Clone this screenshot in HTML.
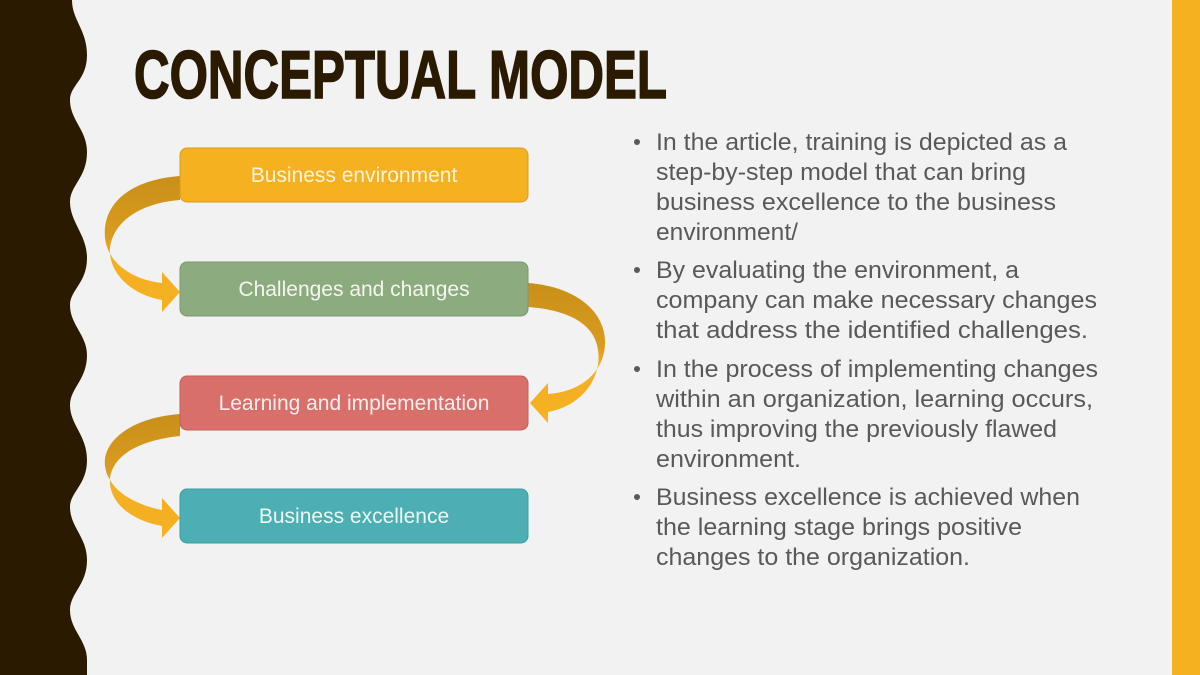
<!DOCTYPE html>
<html><head><meta charset="utf-8"><style>
html,body{margin:0;padding:0;background:#f2f2f2;}
svg{display:block;}
</style></head><body>
<svg width="1200" height="675" viewBox="0 0 1200 675" xmlns="http://www.w3.org/2000/svg">
<defs>
<linearGradient id="ga" x1="0" y1="0" x2="0" y2="1">
<stop offset="0" stop-color="#c98f1a"/><stop offset="0.45" stop-color="#d99c1e"/><stop offset="0.6" stop-color="#f3b024"/><stop offset="1" stop-color="#f5b120"/>
</linearGradient>
</defs>
<rect width="1200" height="675" fill="#f2f2f2"/>
<path d="M0,0 L72,0 C72,20 87,30 87,55 C87,80 70,85 70,100 C70,120 87,130 87,152 C87,178 70,185 70,202 C70,222 87,235 87,258 C87,283 70,290 70,305 C70,325 87,335 87,355 C87,380 70,388 70,405 C70,425 87,435 87,460 C87,485 70,492 70,507 C70,527 87,537 87,560 C87,585 70,593 70,610 C70,630 87,640 87,660 L87,675 L0,675 Z" fill="#2a1a00"/>
<rect x="1172" y="0" width="28" height="675" fill="#f5b120"/>
<text x="134" y="98" font-family="Liberation Sans, sans-serif" font-weight="bold" font-size="68" fill="#2a1a00" stroke="#2a1a00" stroke-width="1.6" textLength="533" lengthAdjust="spacingAndGlyphs">CONCEPTUAL MODEL</text>

<!-- arrows -->
<path d="M180,176 C128,180 102,205 105,238 C108,265 135,280 162,283 L162,272 L180,292 L162,312 L162,300 C128,294 108,270 110,248 C113,222 140,203 180,200 Z" fill="url(#ga)"/>
<path d="M180,414 C128,418 102,443 105,466 C108,490 135,505 162,510 L162,498 L180,518 L162,538 L162,526 C128,520 108,500 110,478 C113,455 140,440 180,436 Z" fill="url(#ga)"/>
<path d="M528,283 C580,287 607,315 605,345 C603,375 578,392 548,394 L548,383 L530,403 L548,423 L548,412 C585,405 602,375 598,350 C595,325 570,310 528,307 Z" fill="url(#ga)"/>

<g font-family="Liberation Sans, sans-serif" font-size="21" fill="#fff" text-anchor="middle">
<rect x="180" y="148" width="348" height="54" rx="7" fill="#f5b120" stroke="#d99c1e"/>
<text x="354" y="182" fill="#fdf3d8">Business environment</text>
<rect x="180" y="262" width="348" height="54" rx="7" fill="#8cab7f" stroke="#7a9870"/>
<text x="354" y="296" fill="#f4f6ef">Challenges and changes</text>
<rect x="180" y="376" width="348" height="54" rx="7" fill="#d96f6a" stroke="#c2605b"/>
<text x="354" y="410" fill="#fbeeee">Learning and implementation</text>
<rect x="180" y="489" width="348" height="54" rx="7" fill="#4bafb4" stroke="#3f9ca0"/>
<text x="354" y="523" fill="#eef8f8">Business excellence</text>
</g>

<g font-family="Liberation Sans, sans-serif" font-size="24" fill="#595959">
<circle cx="637" cy="142" r="3"/>
<circle cx="637" cy="270" r="3"/>
<circle cx="637" cy="369" r="3"/>
<circle cx="637" cy="497" r="3"/>
<text x="656" y="150" textLength="411" lengthAdjust="spacingAndGlyphs">In the article, training is depicted as a</text>
<text x="656" y="180" textLength="370" lengthAdjust="spacingAndGlyphs">step-by-step model that can bring</text>
<text x="656" y="210" textLength="400" lengthAdjust="spacingAndGlyphs">business excellence to the business</text>
<text x="656" y="240" textLength="142" lengthAdjust="spacingAndGlyphs">environment/</text>
<text x="656" y="278" textLength="363" lengthAdjust="spacingAndGlyphs">By evaluating the environment, a</text>
<text x="656" y="308" textLength="441" lengthAdjust="spacingAndGlyphs">company can make necessary changes</text>
<text x="656" y="338" textLength="432" lengthAdjust="spacingAndGlyphs">that address the identified challenges.</text>
<text x="656" y="377" textLength="442" lengthAdjust="spacingAndGlyphs">In the process of implementing changes</text>
<text x="656" y="407" textLength="437" lengthAdjust="spacingAndGlyphs">within an organization, learning occurs,</text>
<text x="656" y="437" textLength="401" lengthAdjust="spacingAndGlyphs">thus improving the previously flawed</text>
<text x="656" y="467" textLength="145" lengthAdjust="spacingAndGlyphs">environment.</text>
<text x="656" y="505" textLength="424" lengthAdjust="spacingAndGlyphs">Business excellence is achieved when</text>
<text x="656" y="535" textLength="366" lengthAdjust="spacingAndGlyphs">the learning stage brings positive</text>
<text x="656" y="565" textLength="314" lengthAdjust="spacingAndGlyphs">changes to the organization.</text>
</g>
</svg>
</body></html>
